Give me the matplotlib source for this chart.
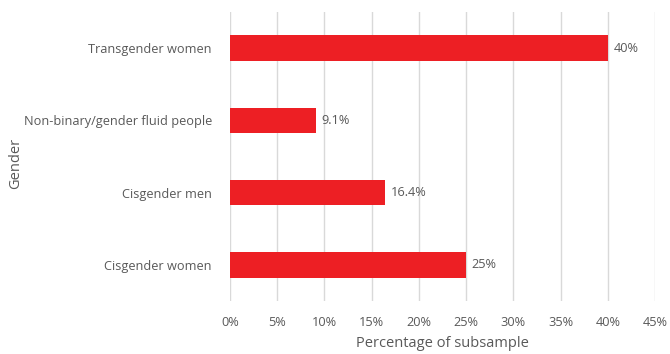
import matplotlib.pyplot as plt

plt.rcParams['font.family'] = ['Open Sans', 'DejaVu Sans']

genders = ['Cisgender women', 'Cisgender men', 'Non-binary/gender fluid people', 'Transgender women']
percentages = [25, 16.4, 9.1, 40]
value_labels = ['25%', '16.4%', '9.1%', '40%']
x_ticks = [0, 5, 10, 15, 20, 25, 30, 35, 40, 45]

text_color = '#595959'
bar_color = '#ED1F24'

fig = plt.figure(figsize=(6.7, 3.54), dpi=100)
ax = fig.add_axes([0.3433, 0.1497, 0.6343, 0.8164])

bars = ax.barh(genders, percentages, height=0.35, color=bar_color, zorder=3)

# value labels at the end of each bar
for bar, label in zip(bars, value_labels):
    ax.text(bar.get_width() + 0.6, bar.get_y() + bar.get_height() / 2, label,
            va='center', ha='left', fontsize=9.2, color=text_color)

ax.set_xlim(0, 45)
ax.set_ylim(-0.5, 3.5)
ax.set_xticks(x_ticks)
ax.set_xticklabels([f'{t}%' for t in x_ticks])

# vertical gridlines only
ax.grid(axis='x', color='#D9D9D9', linewidth=1, zorder=0)
ax.grid(axis='y', visible=False)

for side in ['top', 'right', 'bottom', 'left']:
    ax.spines[side].set_visible(False)

ax.tick_params(axis='both', length=0, labelsize=9.2, colors=text_color)
ax.tick_params(axis='x', pad=11)
ax.tick_params(axis='y', pad=13)

ax.set_xlabel('Percentage of subsample', fontsize=10.5, color=text_color, labelpad=5)
ax.set_ylabel('Gender', fontsize=10.5, color=text_color)
ax.yaxis.set_label_coords(-0.487, 0.475)

fig.savefig('out.png', dpi=100)
